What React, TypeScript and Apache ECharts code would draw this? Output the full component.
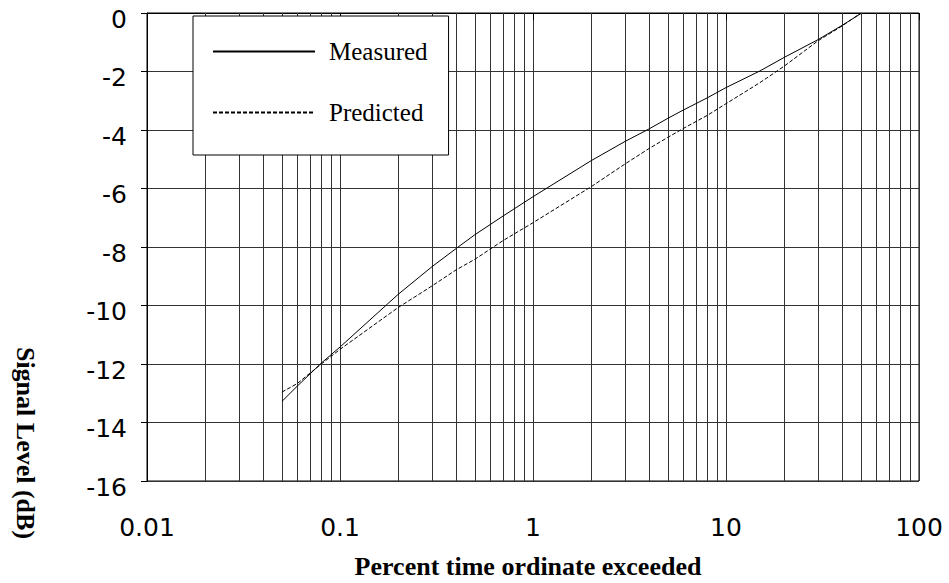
import React, { useEffect, useRef } from "react";
import * as echarts from "echarts";

const percentTime = [0.05, 0.06, 0.08, 0.1, 0.2, 0.3, 0.4, 0.5, 0.7, 1, 2, 3, 4, 5, 6, 8, 10, 15, 20, 30, 40, 50];
const measured = [-13.28, -12.76, -11.97, -11.42, -9.62, -8.67, -8.05, -7.58, -6.94, -6.28, -5.05, -4.39, -3.96, -3.6, -3.32, -2.9, -2.55, -1.98, -1.52, -0.91, -0.42, -0.02];
const predicted = [-12.96, -12.67, -12.0, -11.5, -10.07, -9.33, -8.78, -8.42, -7.78, -7.17, -5.94, -5.16, -4.63, -4.25, -3.95, -3.5, -3.1, -2.38, -1.82, -0.95, -0.44, 0];
const xTickLabels = ["0.01", "0.1", "1", "10", "100"];
const minorGridValues = [
  0.02, 0.03, 0.04, 0.05, 0.06, 0.07, 0.08, 0.09,
  0.2, 0.3, 0.4, 0.5, 0.6, 0.7, 0.8, 0.9,
  2, 3, 4, 5, 6, 7, 8, 9,
  20, 30, 40, 50, 60, 70, 80, 90,
];
const seriesNames = ["Measured", "Predicted"];

export default function App() {
  const ref = useRef<HTMLDivElement>(null);
  useEffect(() => {
    if (!ref.current) return;
    const chart = echarts.init(ref.current, undefined, { renderer: "svg" });
    const gridColor = "#333";
    chart.setOption({
      animation: false,
      backgroundColor: "#fff",
      grid: {
        left: 147,
        top: 13,
        right: 30,
        bottom: 102,
        show: true,
        borderColor: "#000",
        borderWidth: 1,
        backgroundColor: "transparent",
      },
      legend: {
        left: 193,
        top: 16,
        orient: "vertical",
        backgroundColor: "#fff",
        borderColor: "#000",
        borderWidth: 1,
        borderRadius: 0,
        padding: [23, 21, 30, 19],
        itemGap: 36,
        itemWidth: 102,
        itemHeight: 14,
        selectedMode: false,
        itemStyle: { opacity: 0 },
        textStyle: {
          fontFamily: "Liberation Serif",
          fontSize: 25,
          color: "#000",
          padding: [0, 0, 0, 9],
        },
        data: seriesNames,
      },
      xAxis: {
        type: "log",
        logBase: 10,
        min: 0.01,
        max: 100,
        axisLine: { show: true, lineStyle: { color: "#000", width: 1 } },
        axisTick: { show: true, length: 7, lineStyle: { color: "#000", width: 1 } },
        splitLine: { show: true, lineStyle: { color: gridColor, width: 1 } },
        axisLabel: {
          margin: 34,
          fontFamily: "DejaVu Sans",
          fontSize: 25,
          color: "#000",
          formatter: (v: number) => xTickLabels[Math.round(Math.log10(v)) + 2] ?? "",
        },
      },
      yAxis: {
        type: "value",
        min: -16,
        max: 0,
        interval: 2,
        axisLine: { show: true, lineStyle: { color: "#000", width: 1 } },
        axisTick: { show: true, length: 6, lineStyle: { color: "#000", width: 1 } },
        splitLine: { show: true, lineStyle: { color: gridColor, width: 1 } },
        axisLabel: {
          margin: 20,
          fontFamily: "DejaVu Sans",
          fontSize: 25,
          color: "#000",
          verticalAlign: "top",
          lineHeight: 12,
        },
      },
      graphic: [
        {
          type: "text",
          x: 528,
          y: 566,
          style: {
            text: "Percent time ordinate exceeded",
            fontFamily: "Liberation Serif",
            fontWeight: "bold",
            fontSize: 26,
            fill: "#000",
            align: "center",
            verticalAlign: "middle",
          },
        },
        {
          type: "text",
          x: 25,
          y: 443,
          rotation: -Math.PI / 2,
          style: {
            text: "Signal Level (dB)",
            fontFamily: "Liberation Serif",
            fontWeight: "bold",
            fontSize: 26,
            fill: "#000",
            align: "center",
            verticalAlign: "middle",
          },
        },
      ],
      series: [
        {
          name: seriesNames[0],
          type: "line",
          symbol: "none",
          showSymbol: false,
          data: percentTime.map((x, i) => [x, measured[i]]),
          lineStyle: { color: "#000", width: 1, type: "solid" },
          itemStyle: { color: "#000" },
          z: 5,
          markLine: {
            silent: true,
            symbol: ["none", "none"],
            label: { show: false },
            emphasis: { disabled: true },
            lineStyle: { color: gridColor, width: 1, type: "solid" },
            data: minorGridValues.map((v) => ({ xAxis: v })),
            z: 1,
          },
        },
        {
          name: seriesNames[1],
          type: "line",
          symbol: "none",
          showSymbol: false,
          data: percentTime.map((x, i) => [x, predicted[i]]),
          lineStyle: { color: "#000", width: 1, type: [4, 2] },
          itemStyle: { color: "#000" },
          z: 5,
        },
      ],
    });
    return () => chart.dispose();
  }, []);
  return <div ref={ref} style={{ position: "absolute", left: 0, top: 0, width: 949, height: 583 }} />;
}
